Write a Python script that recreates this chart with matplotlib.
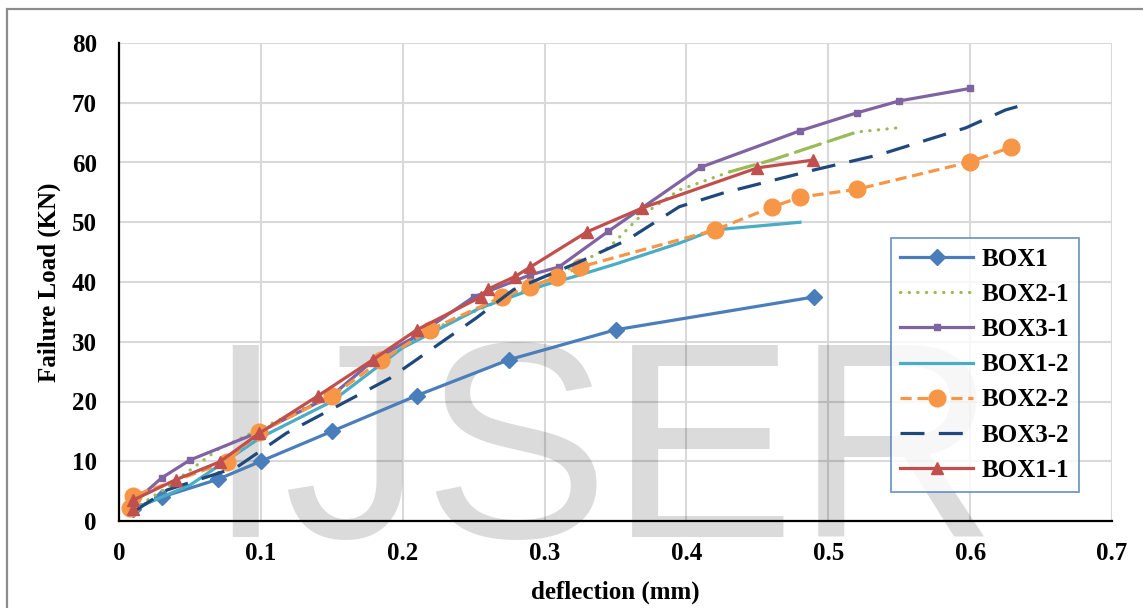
"""Failure load vs deflection for the BOX specimens."""

import numpy as np
import matplotlib.pyplot as plt
from matplotlib.patches import Rectangle

# data
box1_x = [0.01, 0.03, 0.07, 0.10, 0.15, 0.21, 0.275, 0.35, 0.49]
box1_y = [2, 4, 7, 10, 15, 21, 27, 32, 37.5]

box21_x = [0.01, 0.03, 0.07, 0.10, 0.15, 0.18, 0.22, 0.27, 0.30, 0.325, 0.346,
           0.367, 0.395, 0.43, 0.46, 0.52, 0.549]
box21_y = [2, 5, 12, 15.5, 21, 27, 32, 37, 40, 43.2, 45.9, 50.9, 55.4, 58.4,
           60.4, 65.1, 65.8]

box31_x = [0.01, 0.03, 0.05, 0.10, 0.15, 0.18, 0.21, 0.25, 0.29, 0.31, 0.345,
           0.41, 0.48, 0.52, 0.55, 0.60]
box31_y = [3, 7.2, 10.2, 15, 21, 27, 31, 37.5, 41.2, 42.5, 48.5, 59.2, 65.3,
           68.3, 70.3, 72.4]

box12_x = [0.01, 0.05, 0.10, 0.15, 0.20, 0.254, 0.30, 0.318, 0.35, 0.395,
           0.419, 0.48]
box12_y = [2, 6, 14, 20, 29, 35.6, 39.5, 40.7, 43, 46.5, 48.7, 50]

box22_x = [0.008, 0.01, 0.076, 0.099, 0.15, 0.185, 0.219, 0.27, 0.29, 0.309,
           0.325, 0.42, 0.46, 0.48, 0.52, 0.60, 0.629]
box22_y = [2.2, 4.2, 9.9, 14.9, 20.9, 26.9, 32, 37.5, 39.2, 40.9, 42.5, 48.7,
           52.5, 54.2, 55.5, 60.1, 62.6]

box32_x = [0.01, 0.034, 0.083, 0.118, 0.191, 0.252, 0.278, 0.323, 0.358,
           0.395, 0.426, 0.489, 0.536, 0.597, 0.625, 0.643]
box32_y = [1.5, 5.2, 9, 14.7, 23.9, 34, 38.7, 43.2, 47, 52.6, 54.9, 58.7,
           61.3, 65.8, 68.8, 70]

box11_x = [0.01, 0.01, 0.04, 0.071, 0.099, 0.14, 0.179, 0.21, 0.255, 0.26,
           0.279, 0.29, 0.33, 0.369, 0.45, 0.489]
box11_y = [2, 3.5, 6.9, 9.9, 14.7, 20.9, 27, 32, 37.5, 38.8, 40.9, 42.5, 48.4,
           52.4, 59.1, 60.4]

x_ticks = [0, 0.1, 0.2, 0.3, 0.4, 0.5, 0.6, 0.7]
x_labels = ['0', '0.1', '0.2', '0.3', '0.4', '0.5', '0.6', '0.7']
y_ticks = [0, 10, 20, 30, 40, 50, 60, 70, 80]

plt.rcParams['font.family'] = ['Liberation Serif', 'DejaVu Serif']
plt.rcParams['font.weight'] = 'bold'

W, H = 1143, 608
fig = plt.figure(figsize=(W / 100, H / 100), dpi=100)
ax = fig.add_axes([119 / W, 1 - 521 / H, (1112 - 119) / W, (521 - 43) / H])

lw = 2.3
ax.plot(box1_x, box1_y, color='#4A7EBB', lw=lw, marker='D', ms=8,
        label='BOX1', zorder=3)
dotted, = ax.plot(box21_x, box21_y, color='#9BBB59', lw=lw, label='BOX2-1',
                  zorder=3)
dotted.set_dashes([0.1, 2.6])
dotted.set_dash_capstyle('round')
# the upper part of BOX2-1 is drawn with long dashes in the original
seg, = ax.plot(box21_x[-4:-1], box21_y[-4:-1], color='#9BBB59', lw=lw,
               zorder=3)
seg.set_dashes([8, 3])
ax.plot(box31_x, box31_y, color='#8064A2', lw=lw, marker='s', ms=4.5,
        label='BOX3-1', zorder=3)
ax.plot(box12_x, box12_y, color='#4BACC6', lw=lw, label='BOX1-2', zorder=3)
l22, = ax.plot(box22_x, box22_y, color='#F79646', lw=lw, marker='o', ms=12,
               label='BOX2-2', zorder=3)
l22.set_dashes([3.5, 1.8])
l32, = ax.plot(box32_x, box32_y, color='#1F497D', lw=lw, label='BOX3-2',
               zorder=3)
l32.set_dashes([7.5, 4.5])
ax.plot(box11_x, box11_y, color='#C0504D', lw=lw, marker='^', ms=9,
        label='BOX1-1', zorder=3)

ax.set_xlim(0, 0.7)
ax.set_ylim(0, 80)
ax.set_xticks(x_ticks)
ax.set_xticklabels(x_labels)
ax.set_yticks(y_ticks)
ax.tick_params(length=0, labelsize=18, pad=15)
ax.tick_params(axis='y', pad=16)
ax.grid(True, color='#D9D9D9', lw=1.5, zorder=0)
ax.set_axisbelow(True)
for side in ['top', 'right']:
    ax.spines[side].set_visible(False)
for side in ['left', 'bottom']:
    ax.spines[side].set_linewidth(1.6)
    ax.spines[side].set_zorder(4)

ax.set_xlabel('deflection (mm)', fontsize=18, fontweight='bold', labelpad=11)
ax.set_ylabel('Failure Load (KN)', fontsize=18, fontweight='bold', labelpad=8)

leg = ax.legend(loc='upper left', bbox_to_anchor=(891 / W, 1 - 238 / H),
                bbox_transform=fig.transFigure, fontsize=18, frameon=True,
                fancybox=False, handlelength=2.9, labelspacing=0.49,
                borderpad=0.38, handletextpad=0.35, borderaxespad=0)
leg.get_frame().set_edgecolor('#4F81BD')
leg.get_frame().set_linewidth(1.3)
leg.set_zorder(5)

# watermark
ax.text(206 / W, 1 - 537 / H, 'IJSER', transform=fig.transFigure,
        family='Liberation Sans', fontweight='normal', fontsize=201,
        color='black', alpha=0.14, ha='left', va='baseline', zorder=2,
        clip_on=False)

# outer frame of the figure
fig.patches.append(Rectangle((7 / W, -0.2), 1.2, 1 - 9 / H + 0.2,
                             transform=fig.transFigure, fill=False,
                             edgecolor='#8C8C8C', lw=1.6))

fig.savefig('out.png', dpi=100)
